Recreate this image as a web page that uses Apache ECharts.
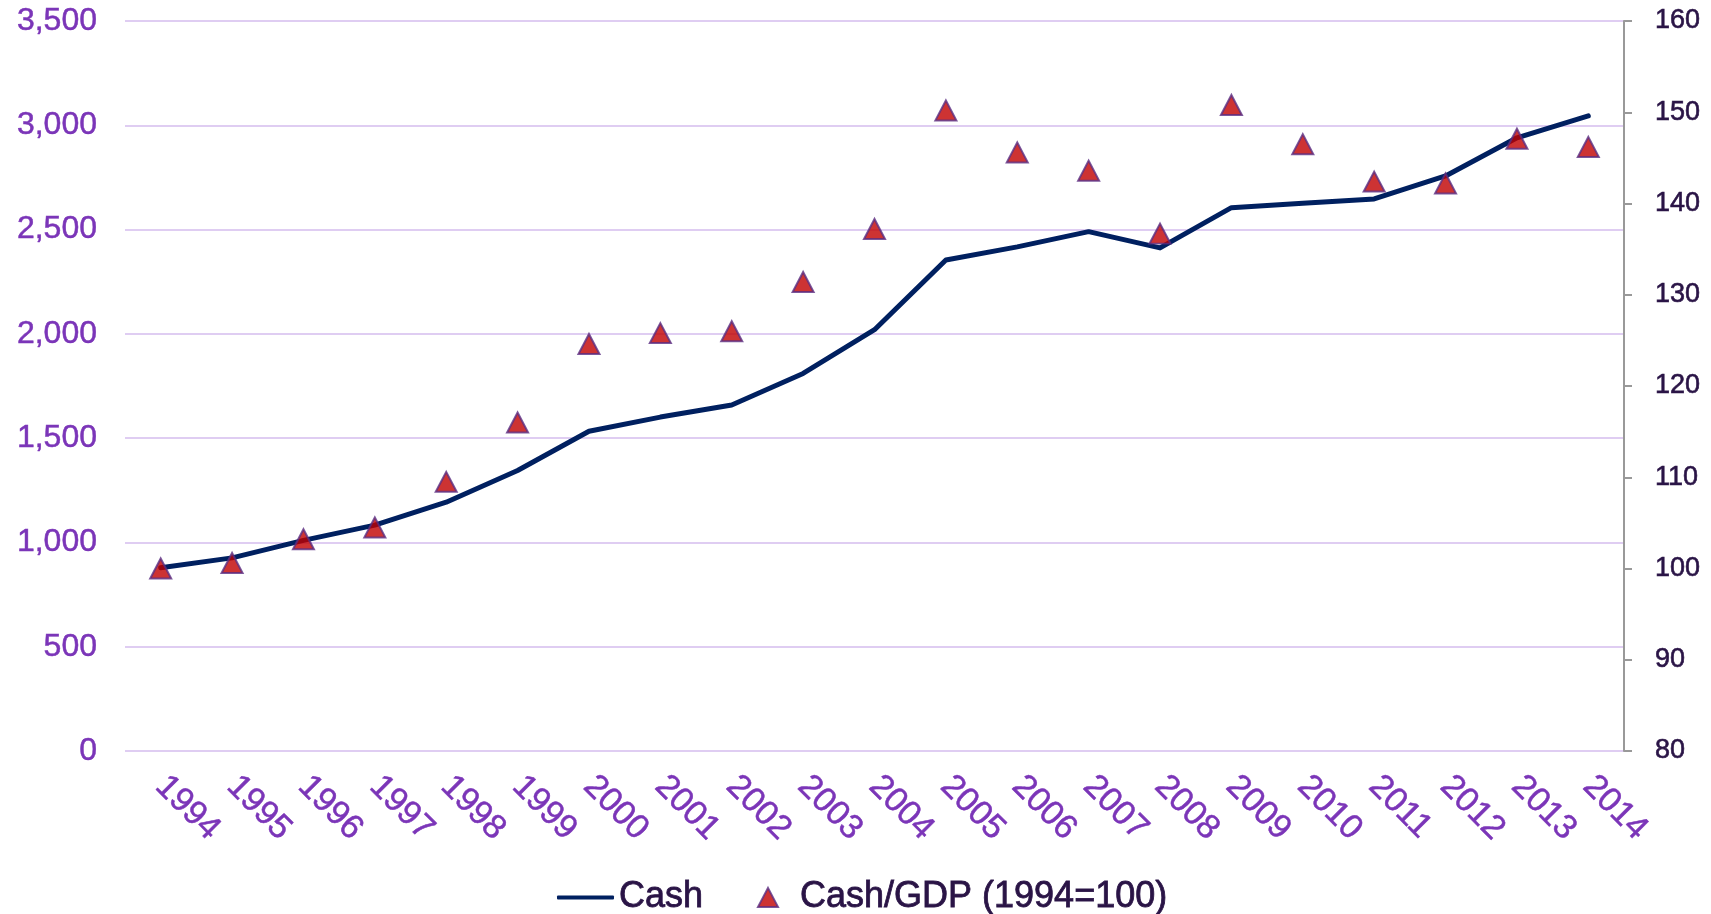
<!DOCTYPE html>
<html>
<head>
<meta charset="utf-8">
<script src="https://cdn.jsdelivr.net/npm/echarts@6/dist/echarts.min.js"></script>
<style>
html,body{margin:0;padding:0;background:#fff;}
#chart{width:1711px;height:914px;}
</style>
</head>
<body>
<div id="chart"></div>
<script>
const years = ['1994','1995','1996','1997','1998','1999','2000','2001','2002','2003','2004','2005','2006','2007','2008','2009','2010','2011','2012','2013','2014'];
const cash = [879, 926, 1010, 1083, 1193, 1345, 1533, 1601, 1659, 1810, 2020, 2354, 2417, 2490, 2412, 2605, 2626, 2647, 2757, 2940, 3045];
const cashToGdp = [100.0, 100.6, 103.2, 104.5, 109.5, 116.0, 124.6, 125.8, 126.0, 131.4, 137.2, 150.2, 145.6, 143.6, 136.7, 150.8, 146.5, 142.4, 142.2, 147.1, 146.2];
const leftTicks = {min: 0, max: 3500, interval: 500};
const rightTicks = {min: 80, max: 160, interval: 10};

const FONT = 'Liberation Sans';
const PURPLE = '#7b35b8';
const DARK = '#2a1446';
const chart = echarts.init(document.getElementById('chart'));
chart.setOption({
  animation: false,
  grid: {left: 125, right: 87, top: 21, bottom: 163, containLabel: false},
  legend: [
    {
      data: [{name: 'Cash', icon: 'roundRect'}],
      left: 552, top: 874,
      itemWidth: 57, itemHeight: 4,
      textStyle: {fontFamily: FONT, fontSize: 36, color: DARK, textBorderColor: DARK, textBorderWidth: 0.8}
    },
    {
      data: [{name: 'Cash/GDP (1994=100)', icon: 'triangle'}],
      left: 752, top: 874,
      itemWidth: 20, itemHeight: 19,
      textStyle: {fontFamily: FONT, fontSize: 36, color: DARK, textBorderColor: DARK, textBorderWidth: 0.8, padding: [0, 0, 0, 17]}
    }
  ],
  xAxis: {
    type: 'category',
    data: years,
    boundaryGap: true,
    axisLine: {show: false},
    axisTick: {show: false},
    axisLabel: {rotate: -45, margin: 30, fontFamily: FONT, fontSize: 34, color: PURPLE, textBorderColor: PURPLE, textBorderWidth: 0.5, interval: 0}
  },
  yAxis: [
    {
      type: 'value',
      min: leftTicks.min, max: leftTicks.max, interval: leftTicks.interval,
      axisLine: {show: false},
      axisTick: {show: false},
      splitLine: {show: true, lineStyle: {color: '#dfcdf2', width: 2}},
      axisLabel: {
        margin: 28, fontFamily: FONT, fontSize: 32, color: PURPLE, textBorderColor: PURPLE, textBorderWidth: 0.5,
        formatter: v => v.toLocaleString('en-US')
      }
    },
    {
      type: 'value',
      position: 'right',
      min: rightTicks.min, max: rightTicks.max, interval: rightTicks.interval,
      axisLine: {show: true, lineStyle: {color: '#999999', width: 2}},
      axisTick: {show: true, length: 8, lineStyle: {color: '#999999', width: 2}},
      splitLine: {show: false},
      axisLabel: {margin: 31, fontFamily: FONT, fontSize: 27, color: DARK, textBorderColor: DARK, textBorderWidth: 0.6}
    }
  ],
  series: [
    {
      name: 'Cash',
      type: 'line',
      yAxisIndex: 0,
      data: cash,
      showSymbol: false,
      symbol: 'none',
      itemStyle: {color: '#002060'},
      lineStyle: {color: '#002060', width: 5, cap: 'round', join: 'round'},
      z: 2
    },
    {
      name: 'Cash/GDP (1994=100)',
      type: 'scatter',
      yAxisIndex: 1,
      data: cashToGdp,
      symbol: 'triangle',
      symbolSize: [21, 20],
      itemStyle: {color: '#c00000', borderColor: '#5a2d82', borderWidth: 2},
      z: 3
    }
  ]
});
</script>
</body>
</html>
